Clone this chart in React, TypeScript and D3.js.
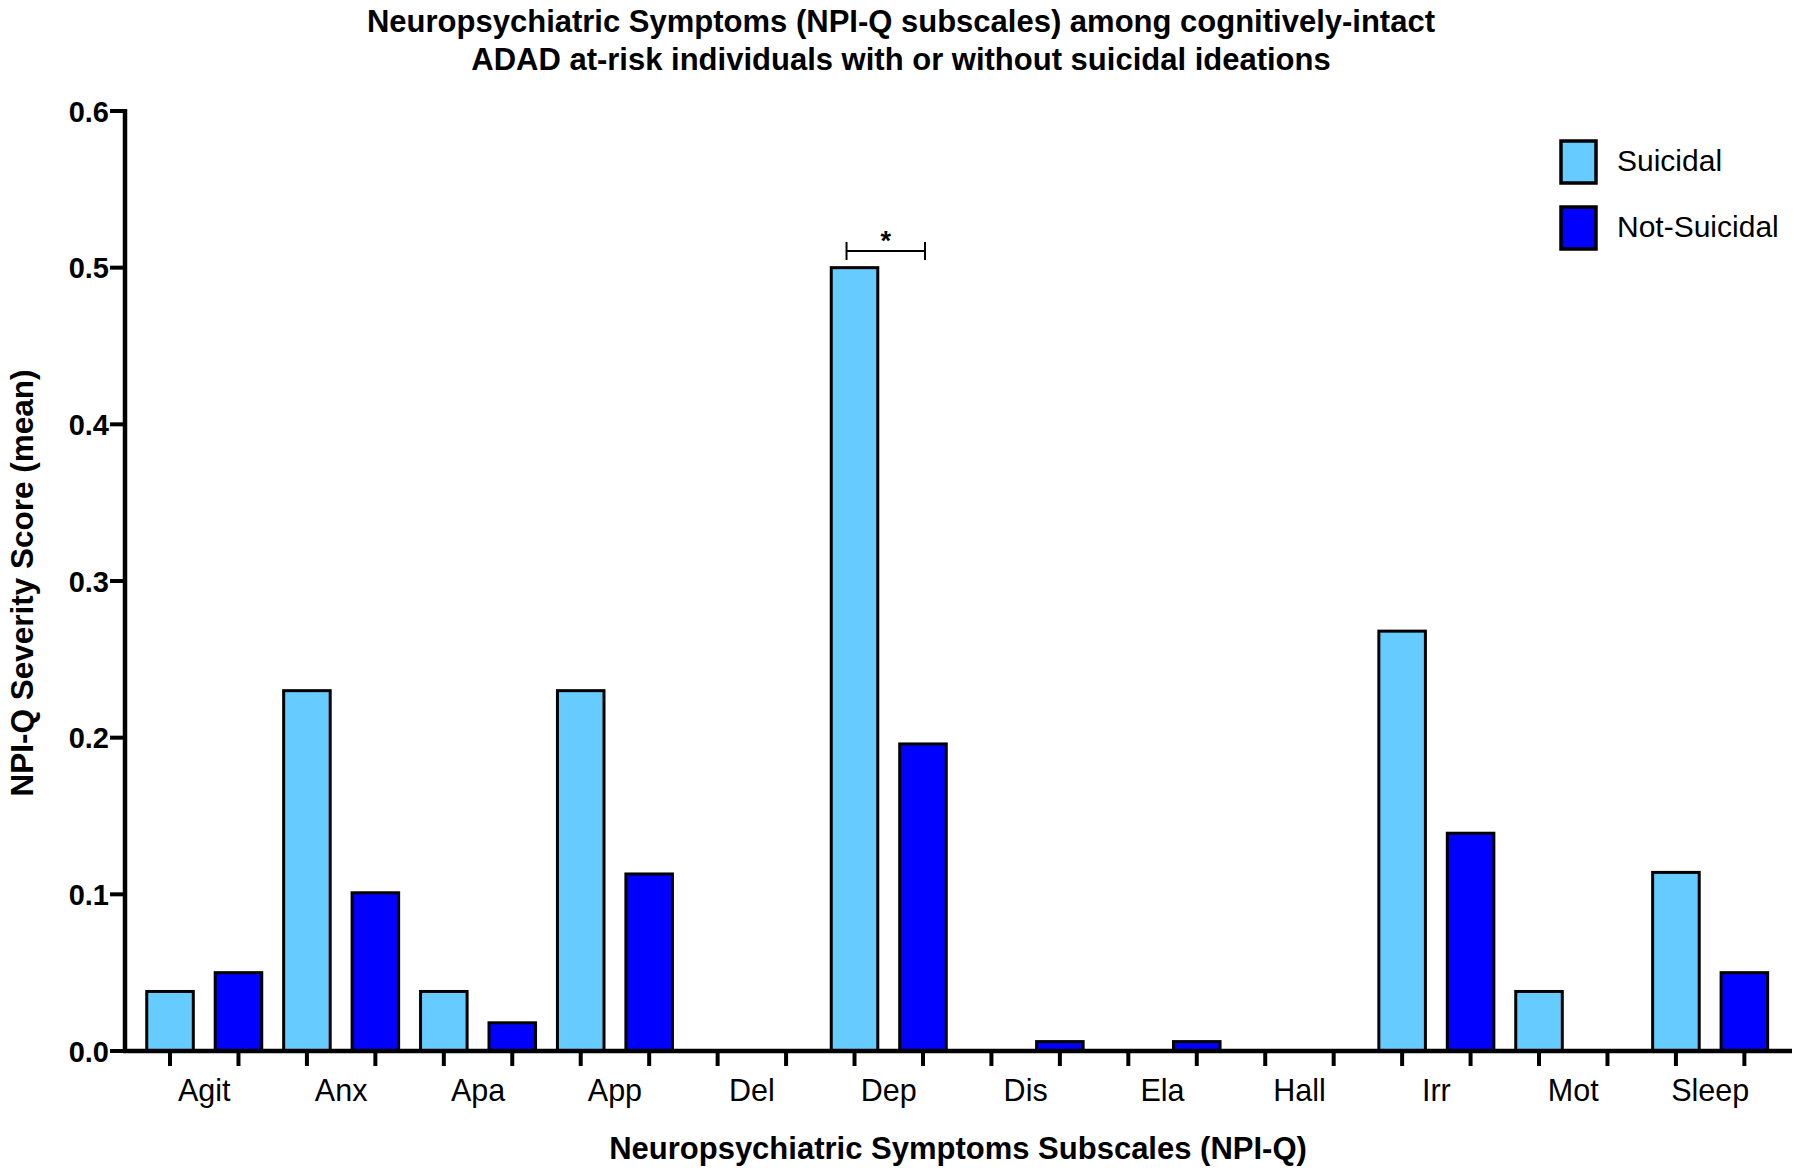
import React from "react";
import * as d3 from "d3";

const categories = ["Agit", "Anx", "Apa", "App", "Del", "Dep", "Dis", "Ela", "Hall", "Irr", "Mot", "Sleep"];
const seriesNames = ["Suicidal", "Not-Suicidal"];
const suicidal = [0.038, 0.23, 0.038, 0.23, 0, 0.5, 0, 0, 0, 0.268, 0.038, 0.114];
const notSuicidal = [0.05, 0.101, 0.018, 0.113, 0, 0.196, 0.006, 0.006, 0, 0.139, 0, 0.05];
const yTicks = [0, 0.1, 0.2, 0.3, 0.4, 0.5, 0.6];
const colors = ["#66CCFF", "#0000FF"];
const titleLines = [
  "Neuropsychiatric Symptoms (NPI-Q subscales) among cognitively-intact",
  "ADAD at-risk individuals with or without suicidal ideations",
];

const W = 1800;
const H = 1173;
const FONT = "'Liberation Sans', Arial, Helvetica, sans-serif";

export default function App() {
  const axisX = 125;
  const y = d3.scaleLinear().domain([0, 0.6]).range([1051, 111]);
  const x0 = d3.scaleBand<string>().domain(categories).range([135.8, 135.8 + 136.9 * 12]).paddingInner(0).paddingOuter(0);
  const x1 = d3.scaleBand<string>().domain(seriesNames).range([0, x0.bandwidth()]).paddingInner(0.32).paddingOuter(0.16);
  const series = [suicidal, notSuicidal];

  const depIdx = categories.indexOf("Dep");
  const bxL = x0(categories[depIdx])! + x1("Suicidal")! + x1.bandwidth() / 2 - 8;
  const bxR = x0(categories[depIdx])! + x1("Not-Suicidal")! + x1.bandwidth() / 2 + 2;
  const by = 251;

  return (
    <svg width={W} height={H} style={{ position: "absolute", left: 0, top: 0, background: "#fff" }} fontFamily={FONT}>
      <rect x={0} y={0} width={W} height={H} fill="#fff" />
      {titleLines.map((t, i) => (
        <text key={i} x={901} y={32 + i * 38} textAnchor="middle" fontSize={31} fontWeight="bold">
          {t}
        </text>
      ))}

      {/* bars */}
      {categories.map((c, ci) =>
        series.map((s, si) => {
          const v = s[ci];
          if (v <= 0) return null;
          const bx = x0(c)! + x1(seriesNames[si])!;
          return (
            <rect
              key={c + si}
              x={bx}
              y={y(v)}
              width={x1.bandwidth()}
              height={y(0) - y(v)}
              fill={colors[si]}
              stroke="#000"
              strokeWidth={3}
            />
          );
        })
      )}

      {/* y axis */}
      <line x1={axisX} x2={axisX} y1={y(0.6) - 2} y2={y(0) + 2} stroke="#000" strokeWidth={4.5} />
      {yTicks.map((t) => (
        <g key={t}>
          <line x1={axisX - 15} x2={axisX} y1={y(t)} y2={y(t)} stroke="#000" strokeWidth={4} />
          <text x={109} y={y(t) + 10.5} textAnchor="end" fontSize={29} fontWeight="bold">
            {t.toFixed(1)}
          </text>
        </g>
      ))}

      {/* x axis */}
      <line x1={axisX - 2} x2={1792} y1={y(0)} y2={y(0)} stroke="#000" strokeWidth={4.5} />
      {categories.map((c) =>
        seriesNames.map((sn) => {
          const cx = x0(c)! + x1(sn)! + x1.bandwidth() / 2;
          return <line key={c + sn} x1={cx} x2={cx} y1={y(0)} y2={y(0) + 15} stroke="#000" strokeWidth={4} />;
        })
      )}
      {categories.map((c) => (
        <text key={c} x={x0(c)! + x0.bandwidth() / 2} y={1101} textAnchor="middle" fontSize={30.5}>
          {c}
        </text>
      ))}

      {/* axis titles */}
      <text x={958} y={1159} textAnchor="middle" fontSize={31} fontWeight="bold">
        Neuropsychiatric Symptoms Subscales (NPI-Q)
      </text>
      <text transform={`translate(33, 583) rotate(-90)`} textAnchor="middle" fontSize={31.5} fontWeight="bold">
        NPI-Q Severity Score (mean)
      </text>

      {/* significance bracket */}
      <g stroke="#000" strokeWidth={2}>
        <line x1={bxL} x2={bxR} y1={by} y2={by} />
        <line x1={bxL} x2={bxL} y1={by - 9} y2={by + 9} />
        <line x1={bxR} x2={bxR} y1={by - 9} y2={by + 9} />
      </g>
      <text x={(bxL + bxR) / 2} y={250} textAnchor="middle" fontSize={27} fontWeight="bold">
        *
      </text>

      {/* legend */}
      {seriesNames.map((sn, i) => (
        <g key={sn}>
          <rect x={1561} y={141 + i * 66} width={35} height={42} fill={colors[i]} stroke="#000" strokeWidth={3.5} />
          <text x={1617} y={171 + i * 66} fontSize={30}>
            {sn}
          </text>
        </g>
      ))}
    </svg>
  );
}
